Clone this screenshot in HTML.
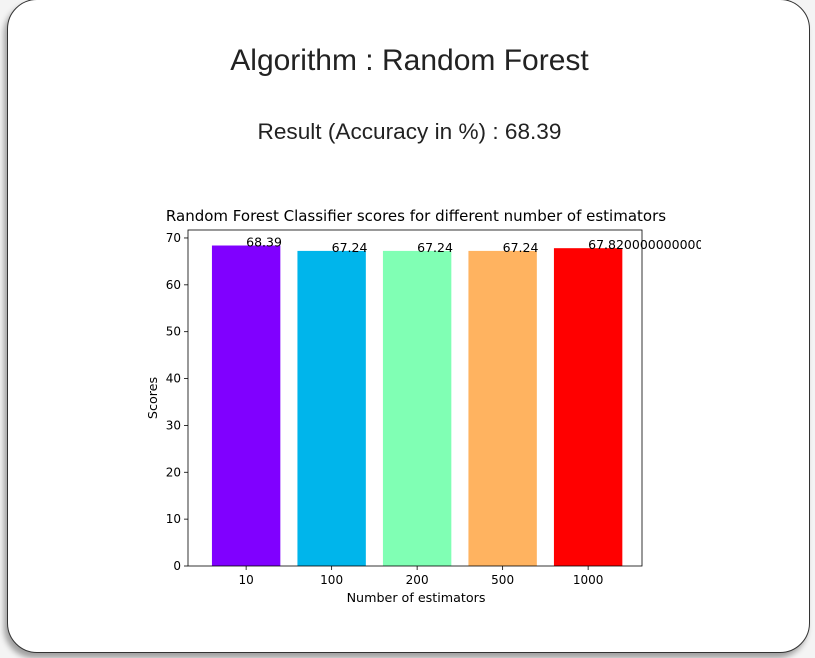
<!DOCTYPE html>
<html><head><meta charset="utf-8"><style>
html,body{margin:0;padding:0;background:#f4f4f4;width:815px;height:658px;overflow:hidden}
#card{position:absolute;left:7px;top:-1px;width:803px;height:654px;background:#fff;border:1.5px solid #333;border-radius:30px;box-shadow:-3px 5px 6px rgba(0,0,0,0.35);box-sizing:border-box}
h1{position:absolute;left:0;width:819px;top:44px;margin:0;text-align:center;font:30px "Liberation Sans",sans-serif;color:#222}
h2{position:absolute;left:0;width:819px;top:119px;margin:0;text-align:center;font:22.6px "Liberation Sans",sans-serif;color:#222}
svg{position:absolute;left:0;top:0}
text{font-family:"DejaVu Sans",sans-serif}
</style></head><body>
<div id="card"></div>
<h1>Algorithm : Random Forest</h1>
<h2>Result (Accuracy in %) : 68.39</h2>
<svg id="chart" width="815" height="658"></svg>
<script>
const categories=["10","100","200","500","1000"];
const scores=[68.39,67.24,67.24,67.24,67.82];
const valueLabels=["68.39","67.24","67.24","67.24","67.82000000000001"];
const colors=["#8000ff","#00b5eb","#80ffb4","#ffb360","#ff0000"];
const yTicks=[0,10,20,30,40,50,60,70];
const NS="http://www.w3.org/2000/svg";
const svg=document.getElementById('chart');
const L=188,R=642,T=230,B=566;
const xmin=-0.68,xmax=4.63,ymax=71.7;
const xs=v=>L+(v-xmin)/(xmax-xmin)*(R-L);
const ys=v=>B-v/ymax*(B-T);
function mk(tag,a,txt){const e=document.createElementNS(NS,tag);for(const k in a)e.setAttribute(k,a[k]);if(txt!=null)e.textContent=txt;svg.appendChild(e);return e;}
const defs=mk('defs',{});const cp=document.createElementNS(NS,'clipPath');cp.setAttribute('id','clip');const cr=document.createElementNS(NS,'rect');cr.setAttribute('x',0);cr.setAttribute('y',0);cr.setAttribute('width',701);cr.setAttribute('height',658);cp.appendChild(cr);defs.appendChild(cp);
const bw=(xs(0.8)-xs(0));
scores.forEach((s,i)=>{
 const r=mk('rect',{x:xs(i)-bw/2,y:ys(s),width:bw,height:B-ys(s),fill:colors[i]});
 
 
 const t=mk('text',{x:xs(i),y:ys(s)+1,'font-size':12.5,fill:'#000','clip-path':'url(#clip)'},valueLabels[i]);
 
 
 mk('line',{x1:xs(i),x2:xs(i),y1:B,y2:B+4,stroke:'#000','stroke-width':0.8});
 const xl=mk('text',{x:xs(i),y:B+18,'font-size':12,'text-anchor':'middle'},categories[i]);
 
 
});
yTicks.forEach(v=>{
 mk('line',{x1:L-4,x2:L,y1:ys(v),y2:ys(v),stroke:'#000','stroke-width':0.8});
 const t=mk('text',{x:L-7,y:ys(v)+4,'font-size':12,'text-anchor':'end'},String(v));
 
 
});
const ax=mk('rect',{x:L,y:T,width:R-L,height:B-T,fill:'none',stroke:'#000','stroke-width':0.8});


const ti=mk('text',{x:416,y:221,'font-size':15,'text-anchor':'middle'},'Random Forest Classifier scores for different number of estimators');


const xt=mk('text',{x:416,y:602,'font-size':12.7,'text-anchor':'middle'},'Number of estimators');


const yt=mk('text',{x:157,y:(T+B)/2,'font-size':12.7,'text-anchor':'middle',transform:'rotate(-90 157 '+((T+B)/2)+')'},'Scores');


</script>
</body></html>
